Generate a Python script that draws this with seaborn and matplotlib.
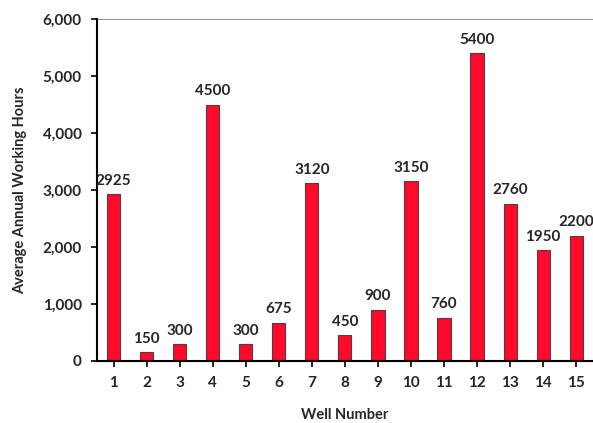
import matplotlib
matplotlib.use("Agg")
import matplotlib.pyplot as plt
import seaborn as sns
from matplotlib.ticker import FuncFormatter

# Well numbers and their average annual working hours
wells = ['1', '2', '3', '4', '5', '6', '7', '8', '9', '10', '11', '12', '13', '14', '15']
hours = [2925, 150, 300, 4500, 300, 675, 3120, 450, 900, 3150, 760, 5400, 2760, 1950, 2200]

sns.set_theme(style="white")
plt.rcParams['font.family'] = ['Lato', 'DejaVu Sans']
plt.rcParams['font.weight'] = 'bold'

fig = plt.figure(figsize=(5.93, 4.23), dpi=100)
ax = fig.add_axes([0.1636, 0.1466, 0.836, 0.8084])

sns.barplot(x=wells, y=hours, color='#FF0A2A', width=0.4, saturation=1,
            edgecolor='#5a3a40', linewidth=0.8, ax=ax)

# value labels above bars
for i, h in enumerate(hours):
    ax.text(i, h + 110, str(h), ha='center', va='bottom', fontsize=11, fontweight='bold')

ax.set_ylim(0, 6000)
ax.set_xlim(-0.5, 14.5)
ax.set_yticks(range(0, 6001, 1000))
ax.yaxis.set_major_formatter(FuncFormatter(lambda v, p: f"{int(v):,}"))
ax.axhline(6000, color='#808080', linewidth=1.2, zorder=0)

for s in ['top', 'right']:
    ax.spines[s].set_visible(False)
for s in ['left', 'bottom']:
    ax.spines[s].set_color('black')
    ax.spines[s].set_linewidth(1.5)

ax.tick_params(axis='both', which='major', direction='out', length=4, width=1.2,
               color='black', labelsize=11, left=True, bottom=True, pad=7)
for lbl in ax.get_xticklabels() + ax.get_yticklabels():
    lbl.set_fontweight('bold')

ax.set_xlabel('Well Number', fontsize=10.5, fontweight='bold', labelpad=13)
ax.set_ylabel('Average Annual Working Hours', fontsize=10.5, fontweight='bold', labelpad=11)

fig.savefig('out.png', dpi=100)
